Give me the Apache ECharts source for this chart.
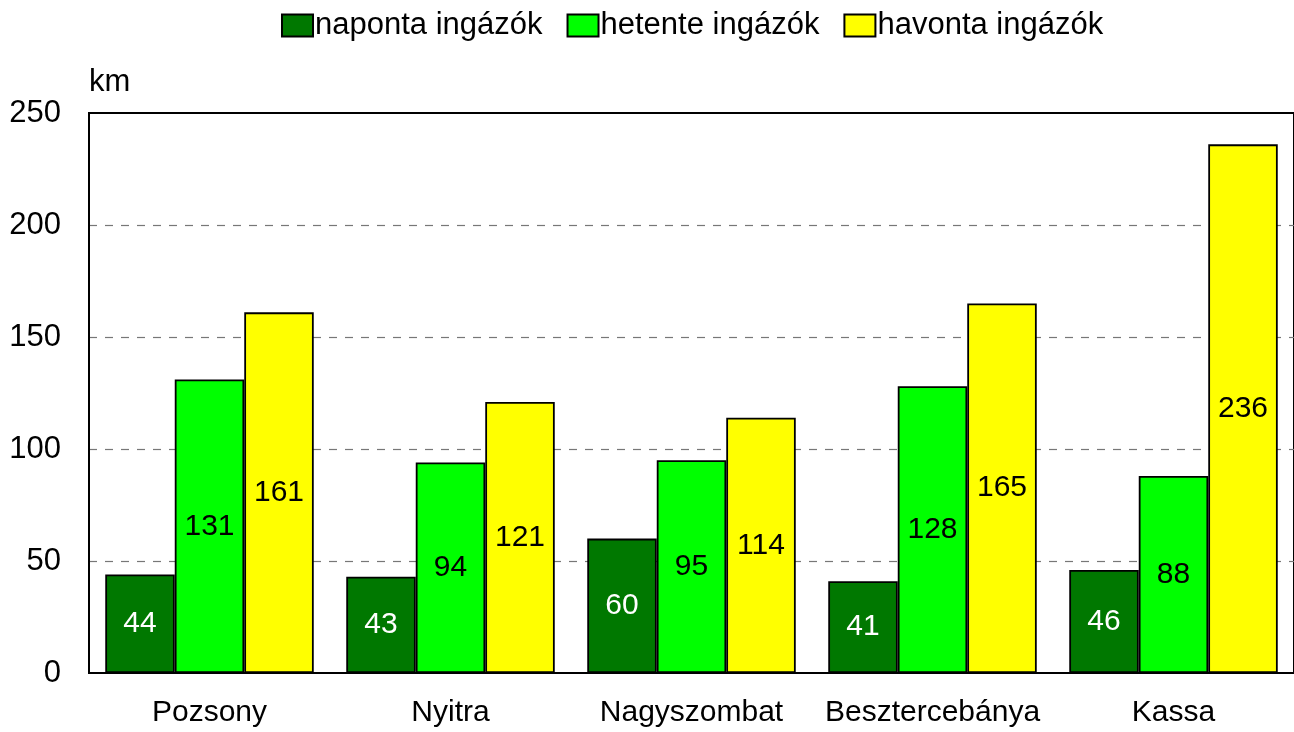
<!DOCTYPE html>
<html>
<head>
<meta charset="utf-8">
<script src="https://cdn.jsdelivr.net/npm/echarts@6/dist/echarts.min.js"></script>
<style>
  html, body { margin: 0; padding: 0; background: #fff; }
  #chart { width: 1294px; height: 732px; }
</style>
</head>
<body>
<div id="chart"></div>
<script>
var cities = ['Pozsony', 'Nyitra', 'Nagyszombat', 'Besztercebánya', 'Kassa'];
var naponta = [44, 43, 60, 41, 46];
var hetente = [131, 94, 95, 128, 88];
var havonta = [161, 121, 114, 165, 236];
var seriesNames = ['naponta ingázók', 'hetente ingázók', 'havonta ingázók'];

var font = '"Liberation Sans", Arial, sans-serif';

var chartDom = document.getElementById('chart');
var myChart = echarts.init(chartDom);

function barSeries(name, data, color, labelColor) {
  return {
    name: name,
    type: 'bar',
    data: data,
    barWidth: 69.5,
    barGap: '0%',
    itemStyle: {
      color: color,
      borderColor: '#000',
      borderWidth: 1.8
    },
    label: {
      show: true,
      position: 'inside',
      color: labelColor,
      fontFamily: font,
      fontSize: 30
    },
    emphasis: { disabled: true }
  };
}

var option = {
  animation: false,
  textStyle: { fontFamily: font },
  legend: {
    top: 5,
    left: 276,
    itemWidth: 31,
    itemHeight: 22,
    itemGap: 24,
    icon: 'rect',
    textStyle: { fontFamily: font, fontSize: 31, color: '#000', padding: [0, 0, 0, -3] },
    data: seriesNames
  },
  grid: {
    left: 89,
    top: 113,
    width: 1215,
    height: 560,
    show: true,
    borderColor: '#000',
    borderWidth: 2,
    containLabel: false
  },
  xAxis: {
    type: 'category',
    data: cities,
    axisLine: { lineStyle: { color: '#000', width: 2 } },
    axisTick: { show: false },
    axisLabel: { color: '#000', fontFamily: font, fontSize: 30, margin: 25, interval: 0 }
  },
  yAxis: {
    type: 'value',
    min: 0,
    max: 250,
    interval: 50,
    name: 'km',
    nameLocation: 'end',
    nameGap: 15,
    nameTextStyle: { color: '#000', fontFamily: font, fontSize: 31, align: 'left' },
    axisLine: { show: true, lineStyle: { color: '#000', width: 2 } },
    axisTick: { show: false },
    axisLabel: { color: '#000', fontFamily: font, fontSize: 31, margin: 28 },
    splitLine: {
      show: true,
      showMaxLine: false,
      showMinLine: false,
      lineStyle: { color: '#777', type: [8, 8], width: 1.2 }
    }
  },
  series: [
    barSeries(seriesNames[0], naponta, '#007800', '#fff'),
    barSeries(seriesNames[1], hetente, '#00ff00', '#000'),
    barSeries(seriesNames[2], havonta, '#ffff00', '#000')
  ]
};
option && myChart.setOption(option);
</script>
</body>
</html>
